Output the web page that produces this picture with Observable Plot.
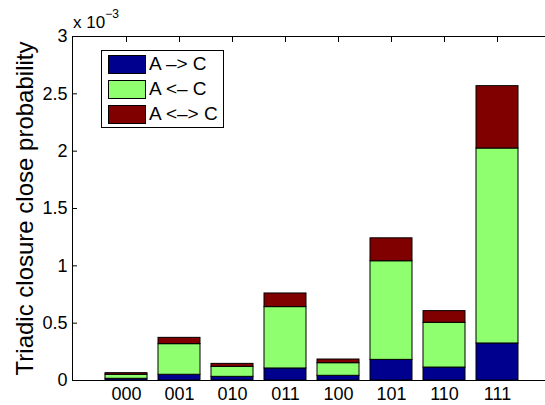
<!DOCTYPE html>
<html>
<head>
<meta charset="utf-8">
<script src="https://cdn.jsdelivr.net/npm/d3@7"></script>
<script src="https://cdn.jsdelivr.net/npm/@observablehq/plot@0.6"></script>
<style>
  html, body { margin: 0; padding: 0; background: #fff; }
  #wrap { position: relative; width: 545px; height: 405px; overflow: hidden; font-family: "Liberation Sans", Arial, Helvetica, sans-serif; }
  #wrap svg { position: absolute; left: 0; top: 0; overflow: hidden; }
  #exp { position: absolute; left: 73px; top: 14px; font-size: 17px; line-height: 1; white-space: nowrap; }
  #exp sup { font-size: 12px; position: relative; top: -3px; vertical-align: super; line-height: 0; }
  #legend { position: absolute; left: 101px; top: 50px; width: 121px; height: 76px; border: 1px solid #000; background: #fff; box-sizing: content-box; }
  .item { position: absolute; left: 6px; height: 18px; display: flex; align-items: center; white-space: nowrap; font-size: 19px; }
  .sw { width: 36px; height: 17px; border: 1px solid #000; margin-right: 3px; }
</style>
</head>
<body>
<div id="wrap">
  <div id="exp">x 10<sup>−3</sup></div>
  <div id="legend"></div>
</div>
<script>
// Values in units of 10^-3
const categories = ["000", "001", "010", "011", "100", "101", "110", "111"];
const seriesNames = ["A –> C", "A <– C", "A <–> C"];
const seriesColors = ["#00008f", "#8fff70", "#800000"];
const outValues  = [0.015, 0.050, 0.032, 0.105, 0.041, 0.180, 0.113, 0.323];   // A -> C
const inValues   = [0.035, 0.267, 0.087, 0.535, 0.110, 0.860, 0.390, 1.700];   // A <- C
const bothValues = [0.014, 0.055, 0.026, 0.119, 0.032, 0.200, 0.102, 0.544];   // A <-> C
const yTicks = [0, 0.5, 1, 1.5, 2, 2.5, 3];
const yLabel = "Triadic closure close probability";

const seriesValues = [outValues, inValues, bothValues];
const rows = [];
seriesNames.forEach((s, si) => {
  categories.forEach((c, ci) => rows.push({cat: c, series: s, value: seriesValues[si][ci]}));
});

const font = '"Liberation Sans", Arial, Helvetica, sans-serif';

const chart = Plot.plot({
  width: 545,
  height: 405,
  marginLeft: 72,
  marginRight: -7,
  marginTop: 36,
  marginBottom: 25,
  style: {fontFamily: font, background: "white", color: "black"},
  x: {domain: categories, paddingInner: 0.2, paddingOuter: 0.6, label: null},
  y: {domain: [0, 3], label: null},
  color: {domain: seriesNames, range: seriesColors},
  marks: [
    Plot.axisX({anchor: "bottom", tickSize: 0, tickPadding: 7, fontSize: 18, label: null}),
    Plot.axisX({anchor: "top", tickSize: -5, tickFormat: () => "", label: null}),
    Plot.axisY({ticks: yTicks, tickSize: 0, tickPadding: 5, fontSize: 18, tickFormat: d => String(d), label: null}),
    Plot.axisY({ticks: yTicks, tickSize: -5, tickFormat: () => "", label: null}),
    Plot.barY(rows, {x: "cat", y: "value", fill: "series", stroke: "#000", strokeWidth: 1}),
    Plot.frame({stroke: "#000", strokeWidth: 1}),
    Plot.text([yLabel], {text: d => d, frameAnchor: "left", textAnchor: "middle", rotate: -90, dx: -47, fontSize: 24, fill: "#000"})
  ]
});
document.getElementById("wrap").prepend(chart);

const legend = document.getElementById("legend");
seriesNames.forEach((s, i) => {
  const it = document.createElement("div");
  it.className = "item";
  it.style.top = (4 + i * 25) + "px";
  const sw = document.createElement("div");
  sw.className = "sw";
  sw.style.background = seriesColors[i];
  const t = document.createElement("span");
  t.textContent = s;
  it.appendChild(sw);
  it.appendChild(t);
  legend.appendChild(it);
});
</script>
</body>
</html>
